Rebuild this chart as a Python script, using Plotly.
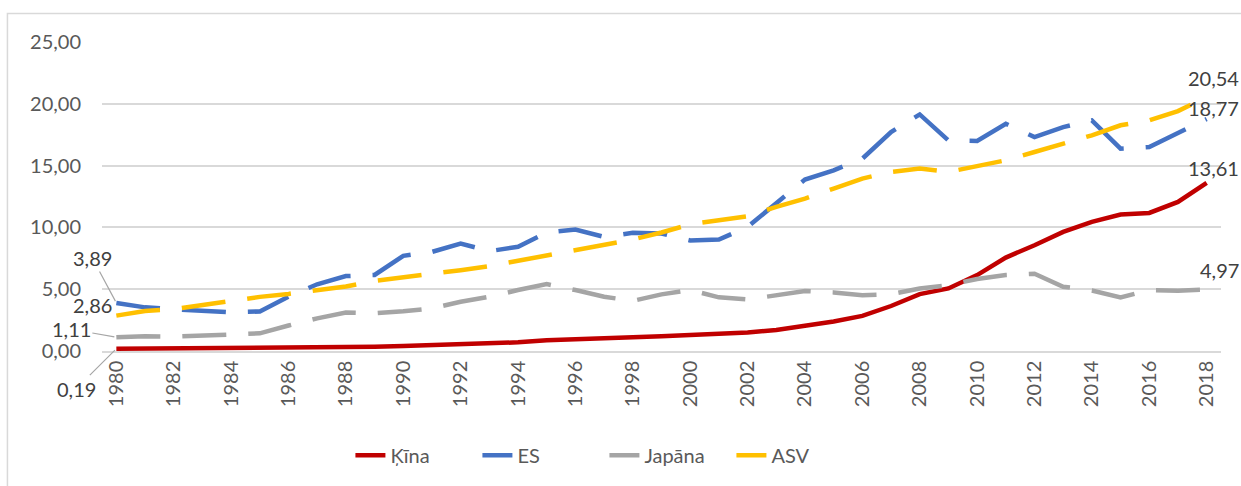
import plotly.graph_objects as go

years = list(range(1980, 2019))

kina = [0.19, 0.20, 0.21, 0.23, 0.25, 0.28, 0.29, 0.30, 0.31, 0.34,
        0.40, 0.46, 0.52, 0.56, 0.70, 0.87, 0.98, 1.06, 1.12, 1.20,
        1.30, 1.38, 1.50, 1.70, 2.03, 2.38, 2.84, 3.64, 4.60, 5.06,
        6.14, 7.56, 8.56, 9.64, 10.45, 11.04, 11.17, 12.06, 13.61]

es = [3.89, 3.53, 3.38, 3.26, 3.13, 3.20, 4.39, 5.40, 6.06, 6.15,
      7.70, 8.02, 8.70, 8.08, 8.43, 9.58, 9.83, 9.23, 9.56, 9.50,
      8.95, 9.02, 10.04, 11.96, 13.87, 14.62, 15.56, 17.72, 19.14, 17.04,
      16.99, 18.39, 17.31, 18.12, 18.66, 16.37, 16.50, 17.63, 18.77]

japana = [1.11, 1.20, 1.16, 1.26, 1.34, 1.43, 2.06, 2.64, 3.11, 3.05,
          3.22, 3.45, 3.98, 4.39, 4.93, 5.41, 4.93, 4.39, 4.06, 4.58,
          4.93, 4.34, 4.17, 4.52, 4.85, 4.74, 4.52, 4.60, 5.06, 5.33,
          5.83, 6.14, 6.25, 5.20, 4.90, 4.33, 4.93, 4.88, 4.97]

asv = [2.86, 3.23, 3.39, 3.72, 4.12, 4.38, 4.62, 4.90, 5.22, 5.68,
       5.95, 6.19, 6.54, 6.87, 7.30, 7.67, 8.08, 8.56, 9.02, 9.59,
       10.25, 10.58, 10.90, 11.66, 12.33, 13.14, 13.95, 14.49, 14.76, 14.49,
       15.00, 15.43, 16.10, 16.77, 17.45, 18.26, 18.66, 19.41, 20.54]

series_names = ["Ķīna", "ES", "Japāna", "ASV"]
series_values = [kina, es, japana, asv]
colors = ["#C00000", "#4472C4", "#A5A5A5", "#FFC000"]
dashes = ["solid", "44px,22px", "44px,22px", "44px,22px"]

FONT = "Lato"
TXT = "#595959"
XMIN, XMAX = years[0] - 0.5, years[-1] + 0.5

fig = go.Figure()
for name, vals, col, dsh in zip(series_names, series_values, colors, dashes):
    fig.add_trace(go.Scatter(x=years, y=vals, mode="lines", name=name,
                             line=dict(color=col, width=4.5, dash=dsh)))


def lbl(v):
    return f"{v:.2f}".replace(".", ",")


def xpaper(yr):
    return (yr - XMIN) / (XMAX - XMIN)


first_cfg = {
    "Ķīna": dict(showarrow=True, ax=-40, ay=40),
    "ES": dict(showarrow=True, ax=-24, ay=-45),
    "Japāna": dict(showarrow=True, ax=-45, ay=-8),
    "ASV": dict(showarrow=False, xshift=-24, yshift=11),
}
last_cfg = {
    "Ķīna": dict(xshift=7, yshift=15),
    "ES": dict(xshift=7, yshift=11),
    "Japāna": dict(xshift=13, yshift=20),
    "ASV": dict(xshift=7, yshift=19),
}
for name, vals in zip(series_names, series_values):
    cfg = first_cfg[name]
    ann = dict(x=xpaper(years[0]), y=vals[0], text=lbl(vals[0]), xref="paper", yref="y",
               xanchor="center", yanchor="middle",
               font=dict(family=FONT, size=20, color="#404040"))
    if cfg.get("showarrow"):
        ann.update(showarrow=True, arrowhead=0, arrowwidth=1.2, arrowcolor="#A6A6A6",
                   ax=cfg["ax"], ay=cfg["ay"], standoff=2)
    else:
        ann.update(showarrow=False, xshift=cfg["xshift"], yshift=cfg["yshift"])
    fig.add_annotation(**ann)
    c2 = last_cfg[name]
    fig.add_annotation(x=xpaper(years[-1]), y=vals[-1], text=lbl(vals[-1]),
                       xref="paper", yref="y", xanchor="center", yanchor="middle",
                       showarrow=False, xshift=c2["xshift"], yshift=c2["yshift"],
                       font=dict(family=FONT, size=20, color="#404040"))

# chart frame
fig.add_shape(type="rect", xref="paper", yref="paper", x0=-0.0845, x1=1.1,
              y0=-0.5, y1=1.0922, line=dict(color="#D9D9D9", width=1.5),
              fillcolor="rgba(0,0,0,0)", layer="below")

fig.update_layout(
    width=1241, height=486,
    margin=dict(l=102, r=20, t=42, b=135),
    paper_bgcolor="white", plot_bgcolor="white",
    separators=", ",
    font=dict(family=FONT, size=20, color=TXT),
    showlegend=True,
    legend=dict(orientation="h", x=0.222, xanchor="left", y=-0.337, yanchor="middle",
                font=dict(family=FONT, size=20, color=TXT),
                entrywidth=82, entrywidthmode="pixels",
                bgcolor="rgba(0,0,0,0)"),
    xaxis=dict(type="linear", range=[XMIN, XMAX], tickmode="linear", tick0=1980, dtick=2,
               tickangle=-90, showgrid=False, zeroline=False, showline=True,
               linecolor="#D9D9D9", linewidth=1.5, ticks="",
               tickfont=dict(family=FONT, size=20, color=TXT)),
    yaxis=dict(range=[0, 25], dtick=5, tickformat=".2f", showgrid=True,
               gridcolor="#D9D9D9", gridwidth=1.5, zeroline=False, showline=False,
               ticks="", ticklabelstandoff=20,
               tickfont=dict(family=FONT, size=20, color=TXT)),
)

fig.write_html("out.html", config={"displayModeBar": False},
               post_script="document.body.style.margin='0';document.body.style.overflow='hidden';")
